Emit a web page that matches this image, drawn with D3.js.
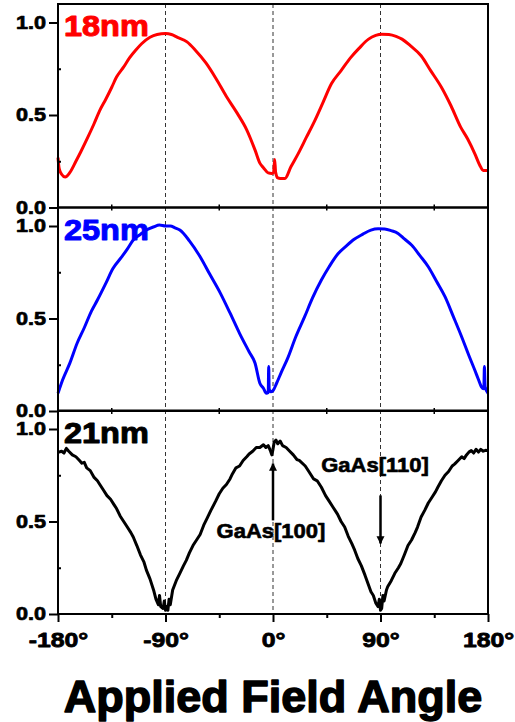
<!DOCTYPE html>
<html>
<head>
<meta charset="utf-8">
<script src="https://cdn.jsdelivr.net/npm/d3@7"></script>
<style>
  body { margin: 0; background: #fff; }
</style>
</head>
<body>
<script>
// 18nm sample (red)
const angles18 = [-180,-179,-177,-174,-170,-165,-161,-155,-150,-145,-140,-135,-131,-125,-120,-115,-110,-103,-97,-90,-85,-80,-72,-65,-56,-48,-39,-30,-22,-15,-11,-8,-4,-1,0.5,1.4,2.2,4,6,10,15,21,28,35,42,49,57,65,72,80,86,91,97,103,108,115,124,132,141,149,157,163,169,173,176,180];
const values18 = [0.27,0.21,0.18,0.165,0.19,0.25,0.30,0.38,0.45,0.525,0.585,0.65,0.705,0.76,0.81,0.85,0.885,0.92,0.935,0.94,0.935,0.92,0.895,0.85,0.78,0.70,0.60,0.51,0.42,0.31,0.24,0.215,0.187,0.184,0.19,0.26,0.19,0.16,0.157,0.157,0.22,0.29,0.38,0.47,0.57,0.67,0.74,0.81,0.86,0.91,0.93,0.937,0.935,0.925,0.91,0.875,0.82,0.74,0.65,0.55,0.436,0.37,0.29,0.23,0.20,0.20];

// 25nm sample (blue)
const angles25 = [-180,-176,-170,-164,-158,-152,-147,-140,-134,-127,-122,-117,-111,-106,-100,-95,-90,-86,-82,-78,-70,-61,-53,-44,-36,-28,-20,-15,-11,-8,-5.6,-4,-3.6,-3.2,-1.9,0,3,7,12.6,19,26.5,33,40.5,47,54.4,61,68,75,82,88,93.5,99,104.7,110,116,123,130,137,144,151,158,164,169,172,174.5,176.5,177,177.6,180];
const values25 = [0.096,0.17,0.26,0.366,0.45,0.54,0.60,0.69,0.77,0.83,0.875,0.924,0.955,0.978,0.995,1.005,1.0,1.0,0.99,0.978,0.92,0.834,0.74,0.636,0.53,0.42,0.32,0.258,0.15,0.123,0.096,0.10,0.24,0.12,0.104,0.11,0.15,0.21,0.29,0.40,0.51,0.61,0.708,0.78,0.85,0.89,0.928,0.955,0.978,0.985,0.984,0.975,0.96,0.93,0.897,0.84,0.78,0.70,0.618,0.51,0.40,0.30,0.22,0.17,0.13,0.12,0.24,0.13,0.096];

// 21nm sample (black)
const angles21 = [-180,-177,-175,-173,-171,-168,-165,-162,-160,-158,-156,-153,-150,-147,-145,-142,-139,-136,-133,-131,-128,-125,-122,-119,-117,-114,-111,-108,-106,-103,-100,-98,-96,-95,-94,-92,-91,-90,-89,-88,-87,-86,-84,-81,-78,-75,-72.6,-70,-67,-64,-61,-58,-55,-52,-48,-45,-42,-39,-36,-34,-31,-28,-25,-22,-20,-17,-14,-11,-8,-6,-4,-2,-1,0,1,2.5,4,6,8,11,14,17,20,22,27,30,34,37,40.5,44,47,50,54,57,60,63,66,68.4,71,74,77,79.5,82,84,86,88,89,90,91,92,93,95,96,99,102,105,107,110,113,116,119,121,124,127,130,133,136,138,141,144,147,150,152,155,158,160,162,164,166,168,170,172,174,176,178,180];
const values21 = [0.874,0.88,0.87,0.895,0.88,0.86,0.85,0.83,0.815,0.82,0.79,0.775,0.74,0.72,0.70,0.67,0.64,0.62,0.59,0.57,0.53,0.50,0.47,0.44,0.416,0.37,0.32,0.28,0.237,0.19,0.13,0.08,0.05,0.10,0.04,0.03,0.07,0.02,0.04,0.02,0.08,0.05,0.13,0.18,0.22,0.26,0.29,0.33,0.37,0.40,0.43,0.48,0.52,0.56,0.61,0.65,0.68,0.70,0.73,0.757,0.79,0.80,0.83,0.85,0.865,0.88,0.90,0.90,0.915,0.90,0.91,0.88,0.86,0.89,0.93,0.94,0.92,0.935,0.91,0.90,0.88,0.86,0.835,0.83,0.80,0.77,0.73,0.72,0.685,0.64,0.61,0.58,0.54,0.50,0.47,0.42,0.38,0.345,0.30,0.26,0.21,0.165,0.12,0.10,0.06,0.04,0.08,0.02,0.03,0.10,0.07,0.13,0.147,0.18,0.22,0.25,0.273,0.32,0.37,0.40,0.44,0.47,0.524,0.56,0.60,0.63,0.66,0.685,0.72,0.75,0.77,0.80,0.81,0.83,0.85,0.84,0.86,0.875,0.883,0.87,0.89,0.875,0.89,0.88,0.885,0.883];

const sampleLabels = ["18nm", "25nm", "21nm"];
const sampleColors = ["#ff0000", "#0000ff", "#000000"];

const xMajorTicks = [-180, -90, 0, 90, 180];
const xMinorTicks = [-135, -45, 45, 135];
const yMajorTicks = [0, 0.5, 1.0];
const yMinorTicks = [0.25, 0.75];
const guideAngles = [-90, 0, 90];

// arrows on the 21nm panel: angle, from value, to value
const arrowAngles = [0, 90];
const arrowFrom = [0.506, 0.641];
const arrowTo = [0.813, 0.381];
const noteTexts = ["GaAs[100]", "GaAs[110]"];
const noteAngles = [-1.7, 85.4];
const noteValues = [0.409, 0.766];

const W = 515, H = 722;
const left = 58, right = 488;
const panelBottoms = [207.5, 411, 614];
const unit = 185;

const FONT = '"Liberation Sans", Arial, Helvetica, sans-serif';
// heavy bold text: bold face plus a thin outline of the same colour
function boldText(sel, size, weight, color) {
    return sel.style("font-family", FONT)
        .style("font-weight", "700")
        .style("font-size", size + "px")
        .attr("fill", color)
        .attr("stroke", color)
        .attr("stroke-width", weight)
        .attr("stroke-linejoin", "round");
}

const svg = d3.select("body").append("svg")
    .attr("width", W)
    .attr("height", H);

const x = d3.scaleLinear().domain([-180, 180]).range([left, right]);

const series = [
    {a: angles18, v: values18},
    {a: angles25, v: values25},
    {a: angles21, v: values21}
];

const yScales = panelBottoms.map(b => d3.scaleLinear().domain([0, 1.1]).range([b, b - 1.1 * unit]));
const plotTop = yScales[0](1.1);

// dashed guides through all panels
svg.selectAll(".guide")
    .data(guideAngles)
    .enter().append("line")
    .attr("x1", d => x(d)).attr("x2", d => x(d))
    .attr("y1", plotTop).attr("y2", panelBottoms[2])
    .attr("stroke", "#333")
    .attr("stroke-width", 1)
    .attr("stroke-dasharray", "4,3");

series.forEach((s, i) => {
    const y = yScales[i];
    const pts = s.a.map((a, k) => [a, s.v[k]]);
    const line = d3.line()
        .x(d => x(d[0])).y(d => y(d[1]))
        .curve(i == 2 ? d3.curveLinear : d3.curveMonotoneX);

    svg.append("path")
        .datum(pts)
        .attr("d", line)
        .attr("fill", "none")
        .attr("stroke", sampleColors[i])
        .attr("stroke-width", 3)
        .attr("stroke-linejoin", "round");

    // frame
    svg.append("rect")
        .attr("x", left).attr("y", y(1.1))
        .attr("width", right - left).attr("height", y(0) - y(1.1))
        .attr("fill", "none")
        .attr("stroke", "#000")
        .attr("stroke-width", 2);

    // y axis
    const ya = svg.append("g")
        .attr("transform", `translate(${left},0)`)
        .call(d3.axisLeft(y).tickValues(yMajorTicks).tickSize(9).tickFormat(d3.format(".1f")));
    ya.select(".domain").remove();
    ya.selectAll("line").attr("stroke-width", 2);
    boldText(ya.selectAll("text"), 18, 0.7, "#000")
        .attr("x", 0)
        .attr("transform", "translate(-12,0) scale(1.2,1)");

    const ym = svg.append("g")
        .attr("transform", `translate(${left},0)`)
        .call(d3.axisLeft(y).tickValues(yMinorTicks).tickSize(-3).tickFormat(""));
    ym.select(".domain").remove();
    ym.selectAll("line").attr("stroke-width", 2);

    // sample label
    boldText(svg.append("text"), 29, 1, sampleColors[i])
        .attr("transform", `translate(${left + 6},${y(1.1) + 32}) scale(1.12,1)`)
        .text(sampleLabels[i]);

    if (i < 2) {
        svg.selectAll(null)
            .data(xMinorTicks)
            .enter().append("line")
            .attr("x1", d => x(d)).attr("x2", d => x(d))
            .attr("y1", y(0) - 3).attr("y2", y(0) + 3)
            .attr("stroke", "#000")
            .attr("stroke-width", 1.5);
    }
});

// bottom x axis
const y3 = yScales[2];
const xa = svg.append("g")
    .attr("transform", `translate(0,${panelBottoms[2]})`)
    .call(d3.axisBottom(x).tickValues(xMajorTicks).tickSize(8).tickFormat(d => d + "°"));
xa.select(".domain").remove();
xa.selectAll("line").attr("stroke-width", 2);
boldText(xa.selectAll("text"), 21, 0.8, "#000")
    .attr("y", 0)
    .attr("dy", null)
    .attr("transform", "translate(0,33) scale(1.18,1)");

const xm = svg.append("g")
    .attr("transform", `translate(0,${panelBottoms[2]})`)
    .call(d3.axisBottom(x).tickValues(xMinorTicks).tickSize(4).tickFormat(""));
xm.select(".domain").remove();
xm.selectAll("line").attr("stroke-width", 2);

// arrows
svg.append("defs").append("marker")
    .attr("id", "head")
    .attr("viewBox", "0 0 10 10")
    .attr("refX", 9).attr("refY", 5)
    .attr("markerWidth", 3.2).attr("markerHeight", 4.5)
    .attr("markerUnits", "strokeWidth")
    .attr("orient", "auto")
    .append("path")
    .attr("d", "M0,0L10,5L0,10z")
    .attr("fill", "#000");

arrowAngles.forEach((a, k) => {
    svg.append("line")
        .attr("x1", x(a)).attr("x2", x(a))
        .attr("y1", y3(arrowFrom[k])).attr("y2", y3(arrowTo[k]))
        .attr("stroke", "#000")
        .attr("stroke-width", 2.5)
        .attr("marker-end", "url(#head)");
});

noteTexts.forEach((t, k) => {
    boldText(svg.append("text"), 19.5, 0.6, "#000")
        .attr("transform", `translate(${x(noteAngles[k])},${y3(noteValues[k])}) scale(1.13,1)`)
        .attr("text-anchor", "middle")
        .text(t);
});

// axis title
boldText(svg.append("text"), 45, 1.5, "#000")
    .attr("x", (left + right) / 2)
    .attr("y", 712)
    .attr("text-anchor", "middle")
    .text("Applied Field Angle");
</script>
</body>
</html>
